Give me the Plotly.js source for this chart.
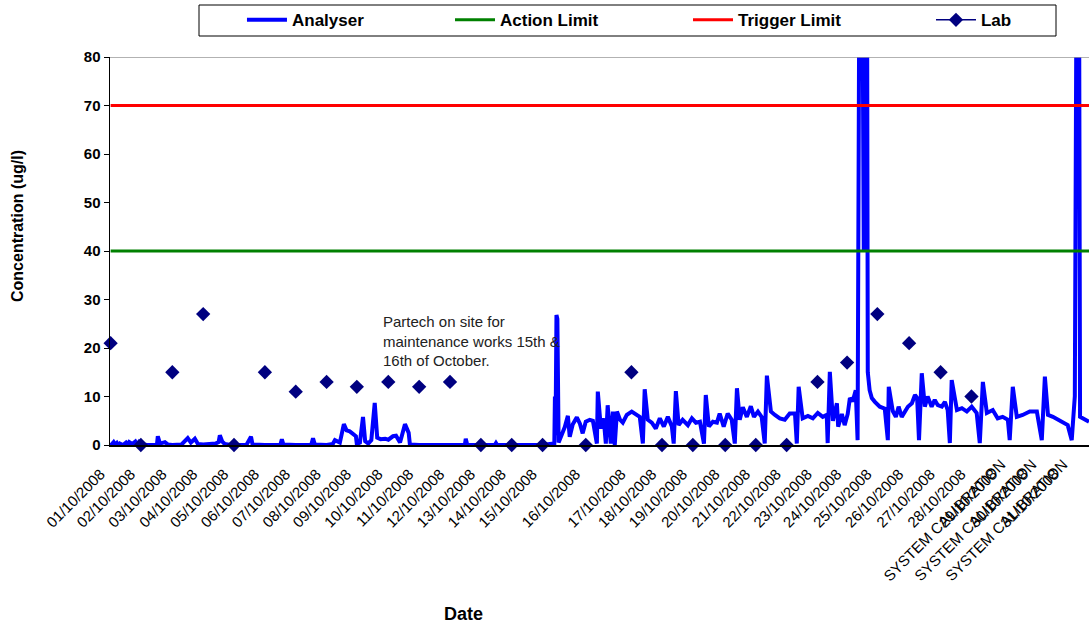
<!DOCTYPE html>
<html>
<head>
<meta charset="utf-8">
<script src="https://cdn.plot.ly/plotly-3.0.1.min.js"></script>
<style>html,body{margin:0;padding:0;background:#fff;}#chart{width:1089px;height:629px;}</style>
</head>
<body>
<div id="chart"></div>
<script>
// Category positions (in day units) of each labelled date
const dateLabels = ['01/10/2008','02/10/2008','03/10/2008','04/10/2008','05/10/2008','06/10/2008','07/10/2008','08/10/2008','09/10/2008','10/10/2008','11/10/2008','12/10/2008','13/10/2008','14/10/2008','15/10/2008','16/10/2008','17/10/2008','18/10/2008','19/10/2008','20/10/2008','21/10/2008','22/10/2008','23/10/2008','24/10/2008','25/10/2008','26/10/2008','27/10/2008','28/10/2008','29/10/2008','30/10/2008','31/10/2008'];
const datePos = [0,0.98,2,3,4,5,6,7,7.98,9,10,11,12,13,14,15.4,16.88,17.87,18.87,19.92,20.91,21.91,22.91,23.87,24.85,25.88,26.9,27.9,28.92,29.92,30.92];
const calibrationLabel = 'SYSTEM CALIBRATION';
const calibrationPos = [28.92,29.92,30.92];

// Lab results (one per day, 01/10 .. 28/10)
const labValues = [21,0,15,27,0,15,11,13,12,13,12,13,0,0,0,0,15,0,0,0,0,0,13,17,27,21,15,10];

// Limits
const actionLimit = 40;
const triggerLimit = 70;
const xEnd = 31.71;

// Analyser readings (position in day units, concentration ug/l)
const anX = [0.00,0.05,0.10,0.15,0.20,0.25,0.30,0.40,0.50,0.55,0.60,0.70,0.80,0.85,0.90,0.95,1.00,1.05,1.20,1.40,1.50,1.53,1.60,1.76,1.86,2.00,2.30,2.50,2.60,2.73,2.83,3.00,3.20,3.40,3.50,3.54,3.62,3.70,3.90,4.40,4.55,4.60,5.00,5.50,5.55,5.60,6.00,6.50,6.56,6.62,7.00,7.20,7.27,7.43,7.56,7.65,7.75,7.85,7.95,7.98,8.08,8.18,8.25,8.35,8.45,8.56,8.64,8.75,8.90,9.00,9.15,9.25,9.30,9.38,9.54,9.60,9.66,9.70,10.00,11.00,11.48,11.51,11.56,12.00,12.45,12.49,12.53,13.00,14.00,14.33,14.38,14.40,14.42,14.45,14.48,14.52,14.72,14.82,14.88,14.98,15.11,15.21,15.30,15.40,15.53,15.63,15.76,15.79,15.89,15.98,16.05,16.11,16.21,16.28,16.34,16.41,16.51,16.60,16.73,16.89,17.06,17.15,17.25,17.31,17.41,17.54,17.67,17.80,17.93,18.06,18.19,18.25,18.32,18.41,18.54,18.71,18.84,18.97,19.10,19.23,19.29,19.39,19.52,19.65,19.74,19.87,20.00,20.13,20.23,20.30,20.39,20.49,20.62,20.75,20.85,20.98,21.10,21.20,21.27,21.40,21.53,21.69,21.85,22.01,22.18,22.24,22.30,22.43,22.60,22.76,22.92,23.08,23.21,23.24,23.31,23.41,23.54,23.58,23.70,23.79,23.89,23.96,24.05,24.15,24.21,24.28,24.35,24.41,24.45,24.51,24.54,24.60,24.67,24.77,24.93,25.09,25.19,25.22,25.35,25.45,25.54,25.64,25.74,25.84,25.97,26.07,26.14,26.20,26.29,26.39,26.48,26.61,26.71,26.81,26.94,27.04,27.13,27.20,27.26,27.43,27.59,27.75,27.91,28.07,28.17,28.27,28.40,28.59,28.75,28.91,29.08,29.14,29.24,29.37,29.56,29.79,30.02,30.18,30.28,30.38,30.54,30.70,30.86,31.02,31.15,31.25,31.32,31.38,31.42,31.58,31.71];
const anY = [0.5,0.2,0.6,0.1,0.4,-0.2,0.3,0.0,0.5,0.1,0.6,0.2,0.7,0.1,0.5,-0.3,-0.2,0.1,0.0,0.1,0.0,1.8,0.3,0.6,0.1,0.0,0.1,1.4,0.5,1.3,0.2,0.1,0.2,0.3,0.6,2.0,0.7,0.2,0.0,0.0,1.7,0.1,0.0,0.0,1.2,0.1,0.0,0.0,1.4,0.1,0.0,0.2,1.0,0.5,4.3,3.0,2.8,2.3,1.8,0.2,0.5,5.8,0.8,0.3,1.0,8.7,1.5,1.2,1.3,1.1,1.8,1.9,1.2,0.5,4.3,3.4,2.5,0.1,0.0,0.0,0.0,1.3,0.0,0.0,0.0,0.4,0.0,0.0,0.0,0.3,0.0,10,2.0,26.8,26.0,0.5,3.7,6.0,1.7,4.3,5.7,4.4,2.4,4.8,5.2,5.0,0.3,11,3.4,5.5,0.3,8.2,0.3,6.9,0.0,6.9,5.2,4.6,6.2,6.9,6.2,5.8,0.3,11.5,5.2,4.6,3.4,5.5,3.8,5.8,3.8,0.3,11.1,4.1,5.2,4.1,5.5,4.6,4.8,0.3,10.3,3.8,4.8,4.6,6.5,3.8,6.5,5.2,0.3,11.7,5.2,7.8,5.8,8.0,5.8,6.9,5.8,0.3,14.3,6.9,6.2,5.5,5.2,6.5,6.5,0.3,12,5.5,6.0,5.5,6.6,5.8,6.2,0.4,15.1,5.0,8.6,3.8,6.4,4.1,6.4,9.7,9.0,11.3,1.0,120,120,40,120,120,15,11.3,9.7,8.9,7.9,7.5,1.0,12,7.0,5.8,7.9,5.8,7.0,7.9,8.6,10.3,9.7,1.0,14.8,7.9,10,7.9,9.3,8.2,7.9,8.9,7.2,0.4,13.4,7.2,7.6,6.9,7.9,6.6,0.4,13,6.6,7.2,5.5,5.8,5.2,1.0,12,5.8,6.2,6.9,6.9,1.0,14.1,6.2,5.8,5.2,4.8,4.1,1.0,10,120,120,5.8,5.2,4.8];

// Lab drawn as markers only; gaps keep the legend's line+marker look
const labX = [], labY = [];
labValues.forEach((v, i) => { labX.push(datePos[i], null); labY.push(v, null); });

const font = 'Arial, "Liberation Sans", sans-serif';

const traces = [
  {x: anX, y: anY, name: 'Analyser', mode: 'lines', line: {color: '#0000FF', width: 4}, legend: 'legend'},
  {x: [0, xEnd], y: [actionLimit, actionLimit], name: 'Action Limit', mode: 'lines', line: {color: '#008000', width: 3}, legend: 'legend2'},
  {x: [0, xEnd], y: [triggerLimit, triggerLimit], name: 'Trigger Limit', mode: 'lines', line: {color: '#FF0000', width: 3}, legend: 'legend3'},
  {x: labX, y: labY, name: 'Lab', mode: 'lines+markers', connectgaps: false, cliponaxis: false, legend: 'legend4',
   line: {color: '#000080', width: 1.5}, marker: {symbol: 'diamond', size: 11, color: '#000080'}}
];

const annotations = [
  {xref: 'x', yref: 'y', x: 8.75, y: 27.6, xanchor: 'left', yanchor: 'top', align: 'left', showarrow: false,
   text: 'Partech on site for<br>maintenance works 15th &<br>16th of October.', font: {family: font, size: 15, color: '#222'}},
  {xref: 'paper', yref: 'paper', x: (463 - 110) / 979, y: (445 - 614) / 388, xanchor: 'center', yanchor: 'middle', showarrow: false,
   text: '<b>Date</b>', font: {family: font, size: 18, color: '#000'}},
  {xref: 'paper', yref: 'paper', x: (17 - 110) / 979, y: (445 - 226) / 388, xanchor: 'center', yanchor: 'middle', showarrow: false,
   textangle: -90, text: '<b>Concentration (ug/l)</b>', font: {family: font, size: 16, color: '#000'}}
];
calibrationPos.forEach(p => annotations.push({
  xref: 'x', yref: 'paper', x: p + 0.3, y: -0.02, xanchor: 'right', yanchor: 'top', textangle: -45, showarrow: false,
  text: calibrationLabel, font: {family: font, size: 15, color: '#000'}
}));

const legendStyle = x => ({orientation: 'h', x: x, y: 1.141, xanchor: 'left', yanchor: 'top', itemwidth: 40,
  bgcolor: 'rgba(0,0,0,0)', borderwidth: 0, font: {family: font, size: 17, color: '#000', weight: 'bold'}});

const layout = {
  width: 1089, height: 629,
  margin: {l: 110, r: 0, t: 57, b: 184},
  paper_bgcolor: '#fff', plot_bgcolor: '#fff',
  font: {family: font, color: '#000'},
  showlegend: true,
  legend: legendStyle(0.1348),
  legend2: legendStyle(0.3473),
  legend3: legendStyle(0.5904),
  legend4: legendStyle(0.8386),
  xaxis: {range: [-0.02, xEnd], tickmode: 'array', tickvals: datePos, ticktext: dateLabels, tickangle: -45,
          tickfont: {family: font, size: 15, color: '#000'}, ticklabelstandoff: 13, ticklabelshift: -10,
          showgrid: false, zeroline: false,
          showline: true, linecolor: '#000', linewidth: 1.5, ticks: '', fixedrange: true},
  yaxis: {range: [0, 80], tickvals: [0,10,20,30,40,50,60,70,80], showgrid: false, zeroline: false,
          showline: true, linecolor: '#000', linewidth: 1.5, ticks: 'outside', ticklen: 5, tickcolor: '#000',
          tickfont: {family: font, size: 15, color: '#000', weight: 'bold'}},
  shapes: [
    {type: 'line', xref: 'paper', yref: 'y', x0: 0, x1: 1, y0: 80, y1: 80, line: {color: '#999', width: 1.5}},
    {type: 'rect', xref: 'paper', yref: 'paper', x0: (199 - 110) / 979, x1: (1056 - 110) / 979, y0: (445 - 36) / 388, y1: (445 - 5) / 388,
     line: {color: '#000', width: 1}, fillcolor: 'rgba(0,0,0,0)'}
  ],
  annotations: annotations
};

Plotly.newPlot('chart', traces, layout, {displayModeBar: false, staticPlot: true});
</script>
</body>
</html>
